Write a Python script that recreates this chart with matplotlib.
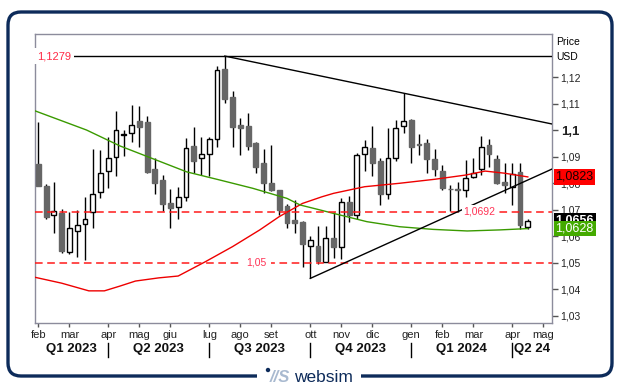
import matplotlib
matplotlib.use('Agg')
import matplotlib.pyplot as plt
import numpy as np
import pandas as pd
from matplotlib.patches import FancyBboxPatch, Rectangle, Circle
from matplotlib.transforms import IdentityTransform, blended_transform_factory

plt.rcParams['font.family'] = ['Liberation Sans', 'DejaVu Sans']

# weekly EUR/USD candles, week ending friday
first_week = '2023-02-03'
opens = [1.0872, 1.0789, 1.0678, 1.0688, 1.0538, 1.0618, 1.0644, 1.0692, 1.0765, 1.0845,
         1.0897, 1.0982, 1.0988, 1.1034, 1.1031, 1.0853, 1.0811, 1.0725, 1.0708, 1.0747,
         1.0940, 1.0893, 1.0908, 1.0965, 1.1230, 1.1123, 1.1019, 1.1015, 1.0950, 1.0874,
         1.0801, 1.0772, 1.0714, 1.0660, 1.0652, 1.0563, 1.0562, 1.0503, 1.0591, 1.0560,
         1.0727, 1.0679, 1.0908, 1.0931, 1.0883, 1.0757, 1.0893, 1.1015, 1.1038, 1.0947,
         1.0952, 1.0891, 1.0846, 1.0777, 1.0779, 1.0772, 1.0823, 1.0852, 1.0943, 1.0889,
         1.0804, 1.0786, 1.0842, 1.0633]
highs = [1.1031, 1.0795, 1.0805, 1.0702, 1.0689, 1.0698, 1.0748, 1.0927, 1.0925, 1.0975,
         1.1072, 1.1000, 1.1094, 1.1091, 1.1053, 1.0893, 1.0830, 1.0776, 1.0786, 1.0970,
         1.1010, 1.0972, 1.0972, 1.1242, 1.1279, 1.1147, 1.1044, 1.1063, 1.0956, 1.0928,
         1.0943, 1.0774, 1.0721, 1.0736, 1.0655, 1.0600, 1.0638, 1.0638, 1.0692, 1.0745,
         1.0751, 1.0912, 1.0962, 1.1015, 1.0893, 1.1006, 1.1038, 1.1139, 1.1042, 1.0984,
         1.0965, 1.0928, 1.0868, 1.0792, 1.0803, 1.0887, 1.0895, 1.0977, 1.0965, 1.0906,
         1.0877, 1.0877, 1.0874, 1.0664]
lows = [1.0787, 1.0663, 1.0610, 1.0535, 1.0531, 1.0522, 1.0509, 1.0629, 1.0742, 1.0782,
        1.0828, 1.0902, 1.0956, 1.0937, 1.0838, 1.0757, 1.0694, 1.0631, 1.0663, 1.0731,
        1.0839, 1.0830, 1.0828, 1.0937, 1.1103, 1.0937, 1.0906, 1.0925, 1.0837, 1.0763,
        1.0770, 1.0679, 1.0629, 1.0610, 1.0484, 1.0440, 1.0493, 1.0501, 1.0518, 1.0514,
        1.0652, 1.0663, 1.0846, 1.0826, 1.0717, 1.0738, 1.0883, 1.0990, 1.0874, 1.0906,
        1.0839, 1.0826, 1.0774, 1.0694, 1.0692, 1.0748, 1.0818, 1.0830, 1.0862, 1.0797,
        1.0763, 1.0717, 1.0625, 1.0626]
closes = [1.0789, 1.0673, 1.0694, 1.0545, 1.0629, 1.0640, 1.0664, 1.0757, 1.0837, 1.0893,
          1.0999, 1.0986, 1.1018, 1.1011, 1.0843, 1.0799, 1.0722, 1.0705, 1.0747, 1.0932,
          1.0884, 1.0909, 1.0965, 1.1226, 1.1117, 1.1012, 1.1006, 1.0941, 1.0862, 1.0799,
          1.0772, 1.0697, 1.0650, 1.0650, 1.0569, 1.0584, 1.0506, 1.0591, 1.0560, 1.0727,
          1.0679, 1.0905, 1.0937, 1.0877, 1.0758, 1.0893, 1.1006, 1.1033, 1.0937, 1.0942,
          1.0891, 1.0852, 1.0782, 1.0776, 1.0772, 1.0818, 1.0839, 1.0937, 1.0908, 1.0799,
          1.0791, 1.0834, 1.0642, 1.0656]

# moving averages read at week positions
ma_red_x = [-0.4, 3, 6.5, 8.5, 10.5, 12.5, 15.5, 18, 21.5, 25, 28.5, 31, 34, 36.5, 38,
            42, 46.5, 51, 55, 57.5, 60, 63]
ma_red_y = [1.0444, 1.0422, 1.0393, 1.0393, 1.0411, 1.0430, 1.0442, 1.0449, 1.0503, 1.0560,
            1.0623, 1.0673, 1.0723, 1.0748, 1.0761, 1.0786, 1.0799, 1.0814, 1.0830, 1.0845,
            1.0837, 1.0823]
ma_green_x = [-0.4, 6.2, 10.5, 14.8, 19.1, 23.4, 27.6, 32, 33.7, 36.3, 37.9, 42.3, 46.5,
              50.8, 55.2, 59.4, 63]
ma_green_y = [1.1072, 1.1000, 1.0940, 1.0891, 1.0842, 1.0811, 1.0780, 1.0742, 1.0717, 1.0698,
              1.0686, 1.0654, 1.0635, 1.0625, 1.0619, 1.0623, 1.0628]

# trendline pivots (week index)
res_pivots = [24, 47]
sup_pivots = [35, 54]
level_low = 1.05

month_names = ['gen', 'feb', 'mar', 'apr', 'mag', 'giu', 'lug', 'ago', 'set', 'ott', 'nov', 'dic']
quarter_labels = ['Q1 2023', 'Q2 2023', 'Q3 2023', 'Q4 2023', 'Q1 2024', 'Q2 24']
ytick_vals = [1.03, 1.04, 1.05, 1.06, 1.07, 1.08, 1.09, 1.10, 1.11, 1.12]
ytick_labels = ['1,03', '1,04', '1,05', '1,06', '1,07', '1,08', '1,09', '1,1', '1,11', '1,12']

n = len(opens)
x = np.arange(n)
o, h, l, c = map(np.array, (opens, highs, lows, closes))

fig = plt.figure(figsize=(6.26, 3.9), dpi=100)
ax = fig.add_axes([35.3 / 626, 67 / 390, 517 / 626, 289 / 390])
x0, x1 = -0.39, 66.15
ax.set_xlim(x0, x1)
ax.set_ylim(1.02717, 1.13623)

def fmt(v):
    return ('%.4f' % v).replace('.', ',')

# candles
up = c >= o
ax.vlines(x, l, h, color='black', lw=1.0, zorder=2)
body_lo = np.minimum(o, c)
body_h = np.maximum(np.abs(c - o), 0.00015)
ax.bar(x[up], body_h[up], bottom=body_lo[up], width=0.62, color='white',
       edgecolor='black', linewidth=1.0, zorder=3)
ax.bar(x[~up], body_h[~up], bottom=body_lo[~up], width=0.62, color='#666666',
       edgecolor='#666666', linewidth=1.0, zorder=3)

# moving averages
ax.plot(ma_red_x, ma_red_y, color='#ee0000', lw=1.0, zorder=4)
ax.plot(ma_green_x, ma_green_y, color='#3a9a00', lw=1.0, zorder=4)

# horizontal levels
top = h.max()
ax.axhline(top, color='black', lw=1.0, zorder=4)
ax.text(-0.2, top, fmt(top), color='#ff2a45', fontsize=8, va='center', ha='left', zorder=6,
        bbox=dict(facecolor='white', edgecolor='none', pad=2))
dash = dict(color='#ff1a1a', lw=1.1, dashes=(5, 3), zorder=4)
ax.axhline(level_low, **dash)
sup_val = l[sup_pivots[1]]
ax.axhline(sup_val, **dash)
ax.text(28.0, level_low, '1,05', color='#ff3355', fontsize=7.5, ha='center', va='center', zorder=6,
        bbox=dict(facecolor='white', edgecolor='none', pad=3.5))
ax.text(54.7, sup_val, fmt(sup_val), color='#ff3355', fontsize=7.5, ha='left', va='center', zorder=6,
        bbox=dict(facecolor='white', edgecolor='none', pad=1.0))

# trendlines
ra, rb = res_pivots
slope = (h[rb] - h[ra]) / (rb - ra)
ax.plot([ra, x1], [h[ra], h[ra] + slope * (x1 - ra)], color='black', lw=1.0, zorder=5)
sa, sb = sup_pivots
slope = (l[sb] - l[sa]) / (sb - sa)
ax.plot([sa, x1], [l[sa], l[sa] + slope * (x1 - sa)], color='black', lw=1.0, zorder=5)

# frame
for s in ax.spines.values():
    s.set_color('#8c8c9c')
    s.set_linewidth(1.0)

# x axis: first week of each month
weeks = pd.date_range(first_week, periods=66, freq='W-FRI')
tick_pos = [i for i in range(len(weeks)) if i == 0 or weeks[i].month != weeks[i - 1].month]
ax.set_xticks(tick_pos)
ax.set_xticklabels([month_names[weeks[i].month - 1] for i in tick_pos], fontsize=8, color='#222222')
ax.tick_params(axis='x', length=3, width=1, color='#555555', pad=2)

qsep = [i for i in tick_pos if weeks[i].month in (1, 4, 7, 10)]
tr = blended_transform_factory(ax.transData, ax.transAxes)
for p in qsep:
    ax.plot([p, p], [-0.069, -0.118], transform=tr, color='black', lw=1.0, clip_on=False)
bounds = [x0] + qsep + [x1]
for lab, a, b in zip(quarter_labels, bounds[:-1], bounds[1:]):
    ax.text((a + b) / 2, -0.09, lab, transform=tr, ha='center', va='center',
            fontsize=9.5, fontweight='bold', color='#111111')

# y axis on the right
ax.yaxis.tick_right()
ax.set_yticks(ytick_vals)
ax.set_yticklabels(ytick_labels, fontsize=7.5, color='#222222')
for t in ax.get_yticklabels():
    if t.get_text() == '1,1':
        t.set_fontweight('bold')
        t.set_fontsize(9.5)
ax.tick_params(axis='y', length=4, width=1, color='#555555', pad=2)
ax.text(1.008, 0.973, 'Price', transform=ax.transAxes, fontsize=7.5, va='center', ha='left')
ax.text(1.008, 0.922, 'USD', transform=ax.transAxes, fontsize=7.5, va='center', ha='left')

# value boxes on the right
ytr = blended_transform_factory(ax.transAxes, ax.transData)
boxes = [(ma_red_y[-1], '#ff0000', '#1a0000', 'normal'),
         (closes[-1], '#000000', 'white', 'bold'),
         (ma_green_y[-1], '#44aa00', 'white', 'normal')]
for val, bg, fg, fw in boxes:
    ax.text(1.006, val, fmt(val), transform=ytr, fontsize=9, color=fg, fontweight=fw,
            va='center', ha='left', zorder=10, clip_on=False,
            bbox=dict(boxstyle='square,pad=0.15', facecolor=bg, edgecolor='none'))

# outer rounded frame with logo
navy = '#0d2b5a'
frame = FancyBboxPatch((8, 14), 604, 364, boxstyle='round,pad=0,rounding_size=13',
                       transform=IdentityTransform(), facecolor='none', edgecolor=navy, lw=2.4)
fig.add_artist(frame)
fig.add_artist(Rectangle((257, 6), 104, 16, transform=IdentityTransform(),
                         facecolor='white', edgecolor='none'))
fig.add_artist(Circle((268, 20), 2.2, transform=IdentityTransform(), facecolor=navy, edgecolor='none'))
fig.text(280 / 626, 13 / 390, '//S', fontsize=12, fontstyle='italic', fontweight='bold',
         color='#a9bad0', ha='center', va='center')
fig.text(323 / 626, 12 / 390, 'websim', fontsize=12.5, color=navy, ha='center', va='center')

fig.savefig('out.png', dpi=100)
